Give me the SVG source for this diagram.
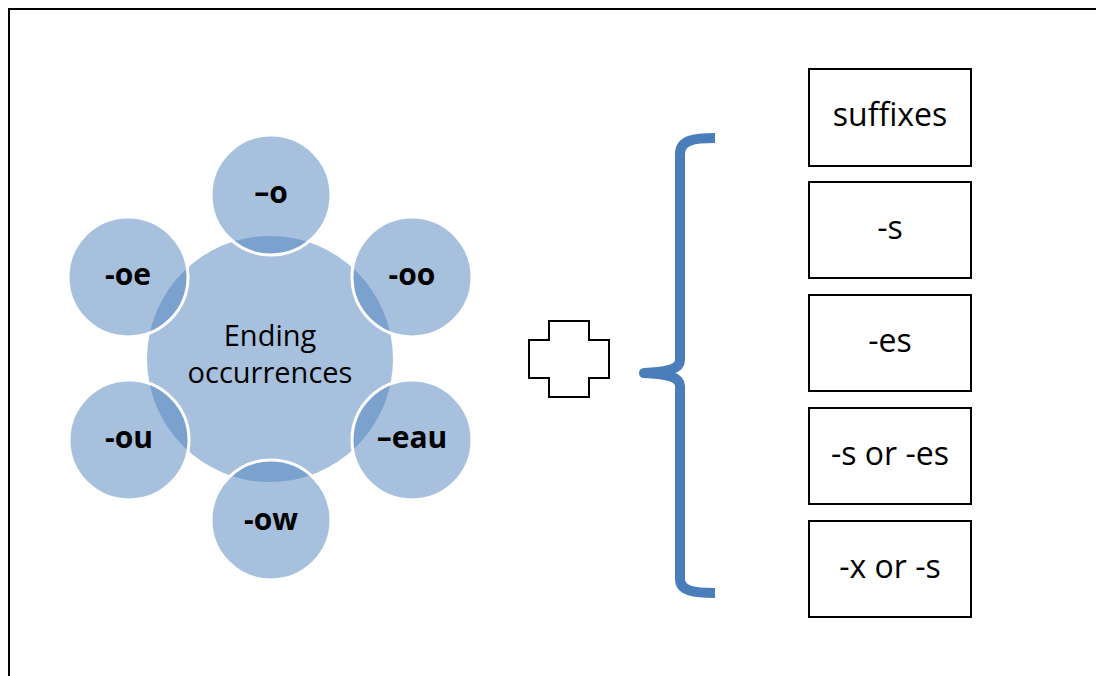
<svg xmlns="http://www.w3.org/2000/svg" width="1096" height="676" viewBox="0 0 1096 676">
<style>
.sat{fill:#4F81BD;fill-opacity:0.5;stroke:#FFFFFF;stroke-width:3}
.hub{fill:#4F81BD;fill-opacity:0.5}
.lbl{font-family:"Open Sans","Liberation Sans",sans-serif;font-weight:bold;font-size:30px;fill:#000;text-anchor:middle}
.hubt{font-family:"Open Sans","Liberation Sans",sans-serif;font-size:29px;fill:#000;text-anchor:middle}
.box{fill:#FFFFFF;stroke:#000;stroke-width:2}
.bt{font-family:"Open Sans","Liberation Sans",sans-serif;font-size:32px;fill:#000;text-anchor:middle}
</style>
<rect width="1096" height="676" fill="#FFFFFF"/>
<path d="M9,676 L9,9 L1096,9" fill="none" stroke="#000" stroke-width="2"/>
<g id="hub">
<circle class="hub" cx="270" cy="359" r="123"/>
<text class="hubt" x="270" y="346">Ending</text>
<text class="hubt" x="270" y="383">occurrences</text>
</g>
<g id="sat-o"><circle class="sat" cx="271" cy="195" r="60"/><text class="lbl" x="271" y="203">–o</text></g>
<g id="sat-oo"><circle class="sat" cx="412" cy="277" r="60"/><text class="lbl" x="412" y="285">-oo</text></g>
<g id="sat-eau"><circle class="sat" cx="412" cy="440" r="60"/><text class="lbl" x="412" y="448">–eau</text></g>
<g id="sat-ow"><circle class="sat" cx="271" cy="520" r="60"/><text class="lbl" x="271" y="530">-ow</text></g>
<g id="sat-ou"><circle class="sat" cx="129" cy="440" r="60"/><text class="lbl" x="129" y="448">-ou</text></g>
<g id="sat-oe"><circle class="sat" cx="128" cy="277" r="60"/><text class="lbl" x="128" y="285">-oe</text></g>
<g id="plus">
<path d="M549,321 L589,321 L589,340 L609,340 L609,378 L589,378 L589,397 L549,397 L549,378 L529,378 L529,340 L549,340 Z" fill="#FFFFFF" stroke="#000" stroke-width="2"/>
</g>
<g id="connectors">
<path d="M715,138 C694,138 680,140 680,154 L680,360 C680,369 668,372 644,373 C668,374 680,377 680,386 L680,579 C680,591 694,593 715,593" fill="none" stroke="#4A7EBB" stroke-width="10" stroke-linejoin="round"/>
</g>
<g id="box-suffixes"><rect class="box" x="809" y="69" width="162" height="97"/><text class="bt" x="890" y="126">suffixes</text></g>
<g id="box-s"><rect class="box" x="809" y="182" width="162" height="96"/><text class="bt" x="890" y="239">-s</text></g>
<g id="box-es"><rect class="box" x="809" y="295" width="162" height="96"/><text class="bt" x="890" y="352">-es</text></g>
<g id="box-s-or-es"><rect class="box" x="809" y="408" width="162" height="96"/><text class="bt" x="890" y="465">-s or -es</text></g>
<g id="box-x-or-s"><rect class="box" x="809" y="521" width="162" height="96"/><text class="bt" x="890" y="578">-x or -s</text></g>
</svg>
